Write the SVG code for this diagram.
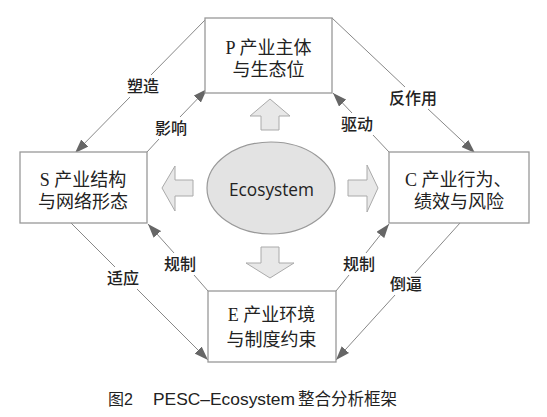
<svg xmlns="http://www.w3.org/2000/svg" width="547" height="417" viewBox="0 0 547 417">
<defs>
<marker id="ah" markerWidth="14" markerHeight="10" refX="14" refY="5" orient="auto" markerUnits="userSpaceOnUse">
<path d="M0,0 L14,5 L0,10 z" fill="#666"/>
</marker>
<style>
.box{fill:#fff;stroke:#999;stroke-width:1.3}
.node{font-family:"Liberation Serif","Noto Sans CJK SC",serif;font-size:18px;fill:#222}
.lbl{font-family:"Noto Sans CJK SC",sans-serif;font-size:16px;fill:#222;text-anchor:middle;font-weight:500}
.ln{stroke:#888;stroke-width:1;fill:none}
.blk{fill:#e8e8e8;stroke:#aaa;stroke-width:1}
.cap{font-family:"Liberation Sans","Noto Sans CJK SC",sans-serif;fill:#222}
</style>
</defs>
<rect width="547" height="417" fill="#fff"/>
<g id="connectors">
<line class="ln" x1="205" y1="20" x2="151" y2="75"/>
<line class="ln" x1="130" y1="97" x2="75" y2="153" marker-end="url(#ah)"/>
<text class="lbl" x="143" y="92">塑造</text>
<line class="ln" x1="147" y1="152" x2="159" y2="139"/>
<line class="ln" x1="180" y1="117" x2="207" y2="89" marker-end="url(#ah)"/>
<text class="lbl" x="171" y="134">影响</text>
<line class="ln" x1="389" y1="152" x2="373" y2="135"/>
<line class="ln" x1="352" y1="113" x2="333" y2="93" marker-end="url(#ah)"/>
<text class="lbl" x="357" y="130">驱动</text>
<line class="ln" x1="332" y1="18" x2="405" y2="87"/>
<line class="ln" x1="428" y1="109" x2="475" y2="153" marker-end="url(#ah)"/>
<text class="lbl" x="413" y="104">反作用</text>
<line class="ln" x1="71" y1="223" x2="115" y2="267"/>
<line class="ln" x1="137" y1="289" x2="208" y2="360" marker-end="url(#ah)"/>
<text class="lbl" x="123" y="284">适应</text>
<line class="ln" x1="208" y1="291" x2="194" y2="275"/>
<line class="ln" x1="174" y1="253" x2="148" y2="224" marker-end="url(#ah)"/>
<text class="lbl" x="180" y="270">规制</text>
<line class="ln" x1="336" y1="291" x2="349" y2="275"/>
<line class="ln" x1="366" y1="253" x2="389" y2="224" marker-end="url(#ah)"/>
<text class="lbl" x="359" y="270">规制</text>
<line class="ln" x1="460" y1="223" x2="415" y2="273"/>
<line class="ln" x1="395" y1="295" x2="336" y2="360" marker-end="url(#ah)"/>
<text class="lbl" x="406" y="290">倒逼</text>
</g>
<g id="block-arrows">
<path class="blk" d="M270,99 L290,116 L279,116 L279,130 L261,130 L261,116 L250,116 z"/>
<path class="blk" d="M261,247 L279,247 L279,263 L294,263 L270,278 L246,263 L261,263 z"/>
<path class="blk" d="M162,188 L175,166 L175,180 L193,180 L193,196 L175,196 L175,211 z"/>
<path class="blk" d="M378,188 L367,212 L367,196 L348,196 L348,180 L367,180 L367,165 z"/>
</g>
<g id="P">
<rect class="box" x="205" y="18" width="127" height="75"/>
<text class="node" x="268.5" y="54" text-anchor="middle">P 产业主体</text>
<text class="node" x="268.5" y="76" text-anchor="middle">与生态位</text>
</g>
<g id="S">
<rect class="box" x="20" y="152" width="127" height="71"/>
<text class="node" x="83" y="186" text-anchor="middle">S 产业结构</text>
<text class="node" x="83" y="208" text-anchor="middle">与网络形态</text>
</g>
<g id="C">
<rect class="box" x="389" y="152" width="140" height="71"/>
<text class="node" x="405" y="186">C 产业行为、</text>
<text class="node" x="414" y="208">绩效与风险</text>
</g>
<g id="E">
<rect class="box" x="208" y="291" width="128" height="71"/>
<text class="node" x="271.5" y="321" text-anchor="middle">E 产业环境</text>
<text class="node" x="271.5" y="346" text-anchor="middle">与制度约束</text>
</g>
<g id="Ecosystem">
<ellipse cx="271" cy="188" rx="64" ry="46" fill="#e3e3e3" stroke="#999" stroke-width="1.2"/>
<text x="271.5" y="196" text-anchor="middle" font-family="'Open Sans','Liberation Sans',sans-serif" font-size="17.5" fill="#222" textLength="85" lengthAdjust="spacingAndGlyphs">Ecosystem</text>
</g>
<g id="caption">
<text class="cap" x="108" y="405" font-size="16">图2</text>
<text class="cap" x="153" y="405" font-size="17" textLength="142" lengthAdjust="spacingAndGlyphs">PESC–Ecosystem</text>
<text class="cap" x="397" y="405" font-size="16.5" text-anchor="end">整合分析框架</text>
</g>
</svg>
